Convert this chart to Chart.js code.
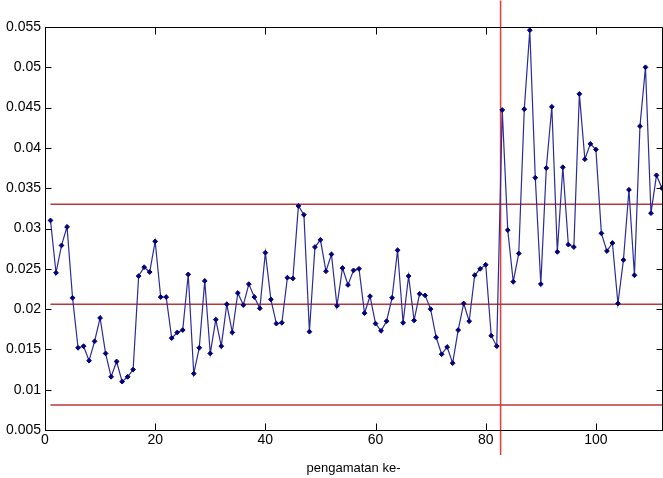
<!DOCTYPE html>
<html lang="id">
<head>
<meta charset="UTF-8">
<title>Peta kendali pengamatan</title>
<script src="https://cdn.jsdelivr.net/npm/chart.js@4.4.0/dist/chart.umd.min.js"></script>
<style>
  html, body { margin: 0; padding: 0; background: #fff; overflow: hidden; }
  #wrap { width: 663px; height: 478px; overflow: hidden; }
  canvas { display: block; }
</style>
</head>
<body>
<div id="wrap"><canvas id="chart" width="667" height="478"></canvas></div>
<script>
// nilai pengamatan ke-1 .. ke-112
const values = [
  0.0310, 0.0245, 0.0279, 0.0302, 0.0214, 0.0152, 0.0154, 0.0136, 0.0160, 0.0189,
  0.0145, 0.0116, 0.0135, 0.0110, 0.0116, 0.0125, 0.0241, 0.0252, 0.0246, 0.0284,
  0.0215, 0.0215, 0.0164, 0.0171, 0.0174, 0.0243, 0.0120, 0.0152, 0.0235, 0.0145,
  0.0187, 0.0154, 0.0206, 0.0171, 0.0220, 0.0205, 0.0231, 0.0215, 0.0201, 0.0270,
  0.0212, 0.0182, 0.0183, 0.0239, 0.0238, 0.0328, 0.0317, 0.0172, 0.0277, 0.0286,
  0.0247, 0.0268, 0.0204, 0.0251, 0.0230, 0.0248, 0.0250, 0.0195, 0.0216, 0.0182,
  0.0173, 0.0185, 0.0214, 0.0273, 0.0183, 0.0241, 0.0186, 0.0219, 0.0217, 0.0200,
  0.0165, 0.0144, 0.0153, 0.0133, 0.0174, 0.0207, 0.0185, 0.0242, 0.0250, 0.0255,
  0.0167, 0.0154, 0.0447, 0.0298, 0.0234, 0.0269, 0.0448, 0.0546, 0.0363, 0.0231,
  0.0375, 0.0451, 0.0271, 0.0376, 0.0280, 0.0277, 0.0467, 0.0386, 0.0405, 0.0398,
  0.0294, 0.0272, 0.0282, 0.0207, 0.0261, 0.0348, 0.0242, 0.0427, 0.0500, 0.0319,
  0.0366, 0.0350
];

const xTicks = [0, 20, 40, 60, 80, 100];
const yTicks = [0.005, 0.01, 0.015, 0.02, 0.025, 0.03, 0.035, 0.04, 0.045, 0.05, 0.055];

// batas kendali
const ucl = 0.0330;
const cl = 0.0206;
const lcl = 0.0081;
const limitFrom = 1;
const limitTo = 112;

// garis pergeseran (vertikal)
const shiftAt = 82.7;
const shiftSpan = [0.0019, 0.0583];

const tickFont = { family: '"Liberation Sans Narrow", "Liberation Sans", Arial, sans-serif', size: 14 };

// bingkai + tick ke dalam ala MATLAB
const framePlugin = {
  id: 'frame',
  afterDraw(chart) {
    const { ctx, chartArea: a, scales: { x, y } } = chart;
    ctx.save();
    ctx.strokeStyle = '#000';
    ctx.lineWidth = 1;
    const L = Math.round(a.left) + 0.5, R = Math.round(a.right) + 0.5;
    const T = Math.round(a.top) + 0.5, B = Math.round(a.bottom) + 0.5;
    ctx.beginPath();
    ctx.rect(L, T, R - L, B - T);
    xTicks.forEach(v => {
      const px = Math.round(x.getPixelForValue(v)) + 0.5;
      ctx.moveTo(px, B); ctx.lineTo(px, B - 7);
      ctx.moveTo(px, T); ctx.lineTo(px, T + 7);
    });
    yTicks.forEach(v => {
      const py = Math.round(y.getPixelForValue(v)) + 0.5;
      ctx.moveTo(L, py); ctx.lineTo(L + 6, py);
      ctx.moveTo(R, py); ctx.lineTo(R - 6, py);
    });
    ctx.stroke();
    ctx.restore();
  }
};

function hLine(v) {
  return [{ x: limitFrom, y: v }, { x: limitTo, y: v }];
}

const ctx = document.getElementById('chart').getContext('2d');
new Chart(ctx, {
  type: 'line',
  data: {
    datasets: [
      {
        label: 'pengamatan',
        data: values.map((v, i) => ({ x: i + 1, y: v })),
        borderColor: '#2b2b9c',
        borderWidth: 1.2,
        pointStyle: 'rectRot',
        pointRadius: 2.4,
        pointBackgroundColor: '#00007a',
        pointBorderColor: '#00007a',
        pointBorderWidth: 1,
        tension: 0
      },
      { label: 'UCL', data: hLine(ucl), borderColor: '#b8383a', borderWidth: 1.6, pointRadius: 0 },
      { label: 'CL', data: hLine(cl), borderColor: '#b8383a', borderWidth: 1.6, pointRadius: 0 },
      { label: 'LCL', data: hLine(lcl), borderColor: '#b8383a', borderWidth: 1.6, pointRadius: 0 },
      {
        label: 'shift',
        data: [{ x: shiftAt, y: shiftSpan[0] }, { x: shiftAt, y: shiftSpan[1] }],
        borderColor: '#ea3a3a',
        borderWidth: 1.5,
        pointRadius: 0,
        clip: false
      }
    ]
  },
  options: {
    responsive: false,
    animation: false,
    layout: { padding: { top: 27, right: 2, left: 0, bottom: 0 } },
    plugins: { legend: { display: false }, tooltip: { enabled: false } },
    scales: {
      x: {
        type: 'linear',
        min: 0,
        max: 112,
        afterBuildTicks: s => { s.ticks = xTicks.map(v => ({ value: v })); },
        afterFit: s => { s.height = 48; },
        grid: { display: false, drawTicks: false },
        border: { display: false },
        ticks: { color: '#000', font: tickFont, padding: 2, maxRotation: 0 },
        title: {
          display: true,
          text: 'pengamatan ke-',
          color: '#000',
          font: { family: '"Liberation Sans Narrow", "Liberation Sans", Arial, sans-serif', size: 13 },
          padding: { top: 2, bottom: 2 }
        }
      },
      y: {
        min: 0.005,
        max: 0.055,
        afterBuildTicks: s => { s.ticks = yTicks.map(v => ({ value: v })); },
        afterFit: s => { s.width = 45; },
        grid: { display: false, drawTicks: false },
        border: { display: false },
        ticks: {
          color: '#000',
          font: tickFont,
          padding: 4,
          callback: v => String(Number(v.toFixed(4)))
        }
      }
    }
  },
  plugins: [framePlugin]
});
</script>
</body>
</html>
